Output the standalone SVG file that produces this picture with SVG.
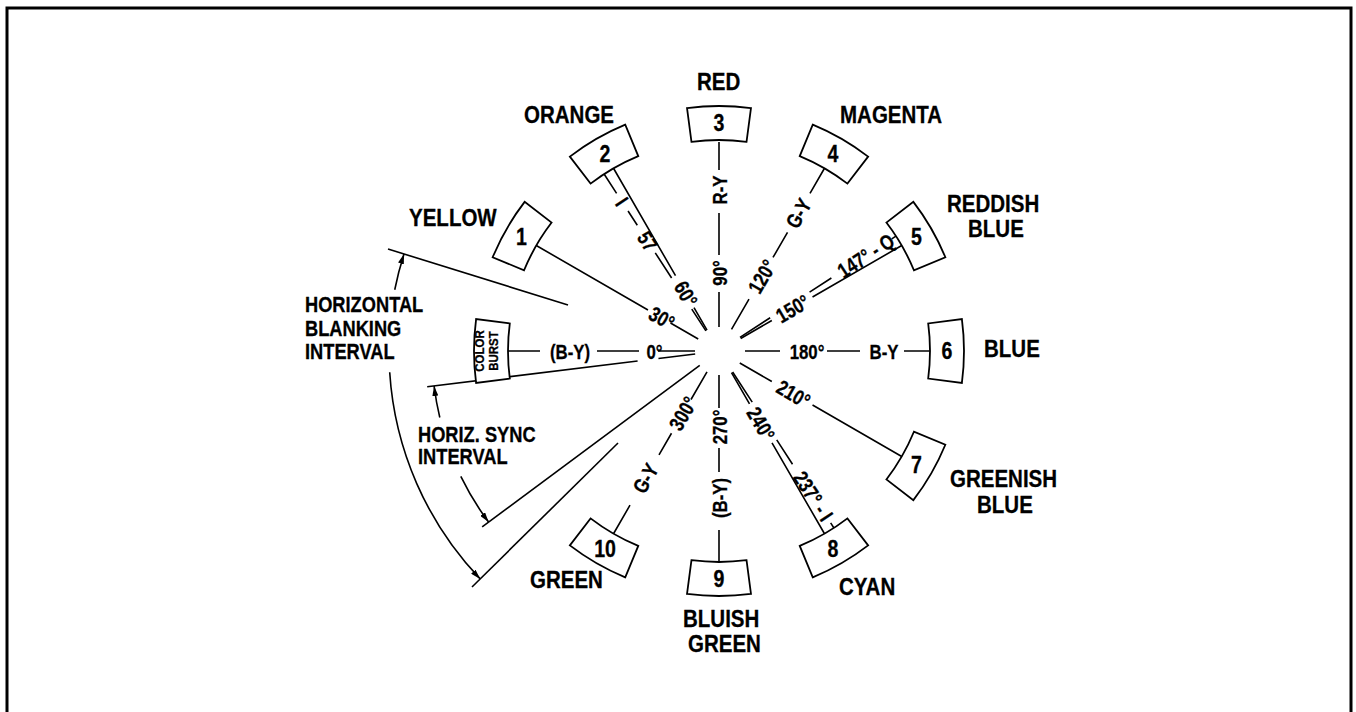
<svg xmlns="http://www.w3.org/2000/svg" width="1356" height="712" viewBox="0 0 1356 712">
<style>
.ln{stroke:#000;stroke-width:1.6;fill:none}
.bx{stroke:#000;stroke-width:1.8;fill:#fff}
.t{font-family:"Liberation Sans",Arial,sans-serif;font-weight:bold;fill:#000;stroke:#000;stroke-width:0.3}
.nm{font-size:24px}
.sl{font-size:21px;text-anchor:middle}
.num{font-size:23px;text-anchor:middle}
.iv{font-size:22px}
</style>
<defs>
<path id="sector" d="M509.81,323.46 A211,211 0 0 0 509.81,378.54 L476.10,382.98 A245,245 0 0 1 476.10,319.02 Z"/>
<marker id="arr" viewBox="0 0 10 6" refX="10" refY="3" markerWidth="10" markerHeight="6" orient="auto" markerUnits="userSpaceOnUse"><path d="M0,0 L10,3 L0,6 Z" fill="#000"/></marker>
</defs>
<rect x="0" y="0" width="1356" height="712" fill="#fff"/>
<rect x="7" y="8" width="1344" height="720" fill="none" stroke="#000" stroke-width="3"/>

<g id="connectors">
<g transform="rotate(0 719 351)">
<path class="ln" d="M695,351H658M639,351H597M540,351H508"/>
<text class="t sl" transform="translate(654.5,351) scale(0.8,1)" y="7.5">0°</text>
<text class="t sl" transform="translate(570,351) scale(0.8,1)" y="7.5">(B-Y)</text>
</g>
<g transform="rotate(30 719 351)">
<path class="ln" d="M695,351H663M637,351H508"/>
<text class="t sl" transform="translate(653,351) scale(0.8,1)" y="7.5">30°</text>
</g>
<g transform="rotate(57 719 351)">
<path class="ln" d="M695,351H669M632,351H602M569,351H552M531,351H508"/>
<text class="t sl" transform="translate(588,351) scale(0.8,1)" y="7.5">57</text>
<text class="t sl" transform="translate(541,351) scale(0.8,1)" y="7.5">I</text>
</g>
<g transform="rotate(60 719 351)">
<path class="ln" d="M695,351H669M632,351H508"/>
<text class="t sl" transform="translate(653,351) scale(0.8,1)" y="7.5">60°</text>
</g>
<g transform="rotate(90 719 351)">
<path class="ln" d="M695,351H660M623,351H581M538,351H510"/>
<text class="t sl" transform="translate(641,351) rotate(180) scale(0.8,1)" y="7.5">90°</text>
<text class="t sl" transform="translate(558,351) rotate(180) scale(0.8,1)" y="7.5">R-Y</text>
</g>
<g transform="rotate(120 719 351)">
<path class="ln" d="M694,351H659M611,351H582M537,351H508"/>
<text class="t sl" transform="translate(633,351) rotate(180) scale(0.8,1)" y="7.5">120°</text>
<text class="t sl" transform="translate(560,351) rotate(180) scale(0.8,1)" y="7.5">G-Y</text>
</g>
<g transform="rotate(147 719 351)">
<path class="ln" d="M694,351H658M611,351H585M513,351H508"/>
<text class="t sl" transform="translate(544,351) rotate(180) scale(0.8,1)" y="7.5">147° - Q</text>
</g>
<g transform="rotate(150 719 351)">
<path class="ln" d="M694,351H658M611,351H508"/>
<text class="t sl" transform="translate(634,351) rotate(180) scale(0.8,1)" y="7.5">150°</text>
</g>
<g transform="rotate(180 719 351)">
<path class="ln" d="M693,351H658M611,351H578M534,351H508"/>
<text class="t sl" transform="translate(631,351) rotate(180) scale(0.8,1)" y="7.5">180°</text>
<text class="t sl" transform="translate(554,351) rotate(180) scale(0.8,1)" y="7.5">B-Y</text>
</g>
<g transform="rotate(210 719 351)">
<path class="ln" d="M695,351H658M611,351H508"/>
<text class="t sl" transform="translate(633,351) rotate(180) scale(0.8,1)" y="7.5">210°</text>
</g>
<g transform="rotate(237 719 351)">
<path class="ln" d="M694,351H658M613,351H584M514,351H508"/>
<text class="t sl" transform="translate(546,351) rotate(180) scale(0.8,1)" y="7.5">237° - I</text>
</g>
<g transform="rotate(240 719 351)">
<path class="ln" d="M694,351H658M613,351H508"/>
<text class="t sl" transform="translate(635,351) rotate(180) scale(0.8,1)" y="7.5">240°</text>
</g>
<g transform="rotate(270 719 351)">
<path class="ln" d="M695,351H662M622,351H598M540,351H508"/>
<text class="t sl" transform="translate(643,351) scale(0.8,1)" y="7.5">270°</text>
<text class="t sl" transform="translate(572,351) scale(0.8,1)" y="7.5">(B-Y)</text>
</g>
<g transform="rotate(300 719 351)">
<path class="ln" d="M695,351H663M624,351H599M541,351H508"/>
<text class="t sl" transform="translate(647,351) scale(0.8,1)" y="7.5">300°</text>
<text class="t sl" transform="translate(572,351) scale(0.8,1)" y="7.5">G-Y</text>
</g>
<path class="ln" d="M388,249L568,305"/>
<g transform="rotate(-7 719 351)"><path class="ln" d="M695,351H658M637,351H425"/></g>
<g transform="rotate(-36.6 719 351)"><path class="ln" d="M695,351H424"/></g>
<path class="ln" d="M472,587L618,443"/>
<path class="ln" d="M394.74,289.73 A330,330 0 0 1 404,254" marker-end="url(#arr)"/>
<path class="ln" d="M389.7,372.3 A330,330 0 0 0 480.2,578.9" marker-end="url(#arr)"/>
<path class="ln" d="M439.8,417.5 A287,287 0 0 1 434.1,386" marker-end="url(#arr)"/>
<path class="ln" d="M460.8,476.4 A287,287 0 0 0 488.6,522.1" marker-end="url(#arr)"/>
</g>

<g id="node-burst">
<use href="#sector" class="bx"/>
<text class="t" font-size="13" text-anchor="middle" transform="translate(484,351) rotate(-90) scale(0.88,1)"><tspan x="0" y="0">COLOR</tspan><tspan x="0" y="14">BURST</tspan></text>
</g>
<g id="node-1">
<use href="#sector" class="bx" transform="rotate(30 719 351)"/>
<text class="t num" transform="translate(521.5,245) scale(0.85,1)">1</text>
<text class="t nm" transform="translate(409,226) scale(0.855,1)">YELLOW</text>
</g>
<g id="node-2">
<use href="#sector" class="bx" transform="rotate(60 719 351)"/>
<text class="t num" transform="translate(605,161.5) scale(0.85,1)">2</text>
<text class="t nm" transform="translate(524,123) scale(0.855,1)">ORANGE</text>
</g>
<g id="node-3">
<use href="#sector" class="bx" transform="rotate(90 719 351)"/>
<text class="t num" transform="translate(719,131) scale(0.85,1)">3</text>
<text class="t nm" transform="translate(697,90) scale(0.855,1)">RED</text>
</g>
<g id="node-4">
<use href="#sector" class="bx" transform="rotate(120 719 351)"/>
<text class="t num" transform="translate(833,161.5) scale(0.85,1)">4</text>
<text class="t nm" transform="translate(840,123) scale(0.855,1)">MAGENTA</text>
</g>
<g id="node-5">
<use href="#sector" class="bx" transform="rotate(150 719 351)"/>
<text class="t num" transform="translate(916.5,245) scale(0.85,1)">5</text>
<text class="t nm" transform="translate(947,212) scale(0.855,1)">REDDISH</text>
<text class="t nm" transform="translate(968,237) scale(0.855,1)">BLUE</text>
</g>
<g id="node-6">
<use href="#sector" class="bx" transform="rotate(180 719 351)"/>
<text class="t num" transform="translate(947,359) scale(0.85,1)">6</text>
<text class="t nm" transform="translate(984,357) scale(0.855,1)">BLUE</text>
</g>
<g id="node-7">
<use href="#sector" class="bx" transform="rotate(210 719 351)"/>
<text class="t num" transform="translate(916.5,473) scale(0.85,1)">7</text>
<text class="t nm" transform="translate(950,487) scale(0.855,1)">GREENISH</text>
<text class="t nm" transform="translate(977,513) scale(0.855,1)">BLUE</text>
</g>
<g id="node-8">
<use href="#sector" class="bx" transform="rotate(240 719 351)"/>
<text class="t num" transform="translate(833,556.5) scale(0.85,1)">8</text>
<text class="t nm" transform="translate(839,595) scale(0.855,1)">CYAN</text>
</g>
<g id="node-9">
<use href="#sector" class="bx" transform="rotate(270 719 351)"/>
<text class="t num" transform="translate(719,587) scale(0.85,1)">9</text>
<text class="t nm" transform="translate(683,627) scale(0.855,1)">BLUISH</text>
<text class="t nm" transform="translate(688,652) scale(0.855,1)">GREEN</text>
</g>
<g id="node-10">
<use href="#sector" class="bx" transform="rotate(300 719 351)"/>
<text class="t num" transform="translate(605,556.5) scale(0.85,1)">10</text>
<text class="t nm" transform="translate(530,588) scale(0.855,1)">GREEN</text>
</g>
<g id="label-blanking">
<text class="t iv" transform="translate(305,0) scale(0.83,1)"><tspan x="0" y="312">HORIZONTAL</tspan><tspan x="0" y="336">BLANKING</tspan><tspan x="0" y="359">INTERVAL</tspan></text>
</g>
<g id="label-sync">
<text class="t iv" transform="translate(418,0) scale(0.83,1)"><tspan x="0" y="442">HORIZ. SYNC</tspan><tspan x="0" y="464">INTERVAL</tspan></text>
</g>
</svg>
